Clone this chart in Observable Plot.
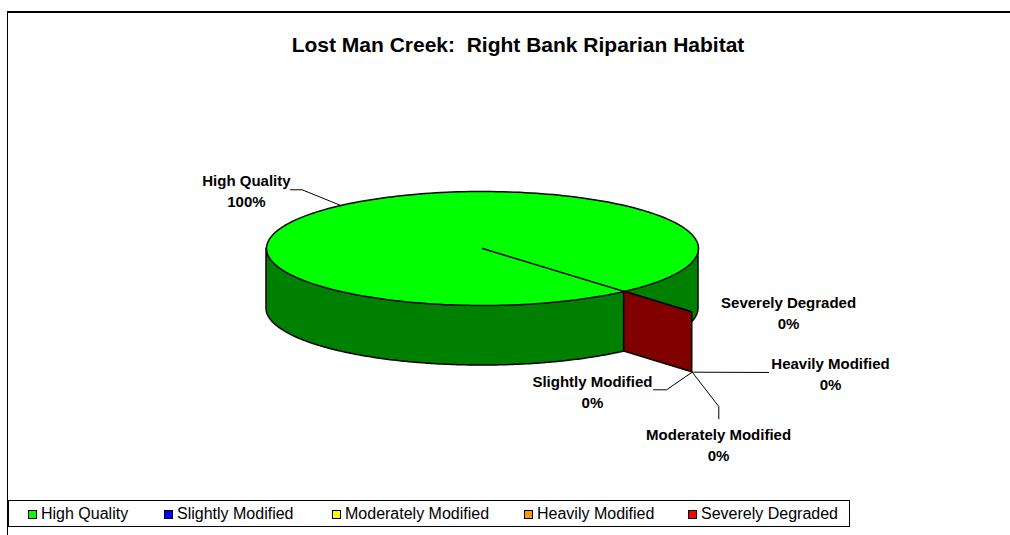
<!DOCTYPE html>
<html>
<head>
<meta charset="utf-8">
<script src="https://cdn.jsdelivr.net/npm/d3@7"></script>
<script src="https://cdn.jsdelivr.net/npm/@observablehq/plot@0.6"></script>
<style>
  html, body { margin: 0; padding: 0; background: #fff; }
  #page { position: relative; width: 1010px; height: 535px; overflow: hidden; font-family: "Liberation Sans", Arial, sans-serif; }
  #border { position: absolute; left: 7px; top: 11px; width: 1200px; height: 800px; border-left: 1.5px solid #000; border-top: 2px solid #000; }
  #title { position: absolute; left: 518px; top: 32px; transform: translateX(-50%); font-size: 21px; line-height: 25px; font-weight: bold; white-space: pre; color: #000; }
  #chart { position: absolute; left: 0; top: 0; }
  #legend { position: absolute; left: 8px; top: 500px; width: 842px; height: 27px; border: 1px solid #000; background: #fff; box-sizing: border-box; }
  .item { position: absolute; top: 0; height: 26px; display: flex; align-items: center; font-size: 16px; white-space: nowrap; color: #000; }
  .sw { width: 7px; height: 7px; border: 1px solid #000; margin-right: 4px; }
</style>
</head>
<body>
<div id="page">
  <div id="border"></div>
  <div id="title"></div>
  <div id="chart"></div>
  <div id="legend"></div>
</div>
<script>
// ---- data ----
const title = "Lost Man Creek:  Right Bank Riparian Habitat";
const categories = ["High Quality", "Slightly Modified", "Moderately Modified", "Heavily Modified", "Severely Degraded"];
const values = [100, 0, 0, 0, 0];
const topColors = ["#00FF00", "#0000FF", "#FFFF00", "#FF9900", "#FF0000"];
const sideColors = ["#008000", "#000080", "#808000", "#804C00", "#800000"];
const firstSliceAngle = 139; // degrees clockwise from 12 o'clock

// ---- layout (style) ----
const depth = 1.053;          // pie thickness in y units
const zeroFaceReach = 1.48;   // radial reach of the zero slices' face
const legendX = [19, 155, 323, 515, 679];
// label positions (pie units) and leader elbows
const labelPos = [
  {x: -1.093, y: -1.026},
  {x: 0.509, y: 2.491},
  {x: 1.093, y: 3.421},
  {x: 1.611, y: 2.175},
  {x: 1.417, y: 1.114}
];
const leaderElbows = [
  [{x: -0.835, y: -1.030}, {x: -0.889, y: -1.030}],
  [{x: 0.852, y: 2.479}, {x: 0.792, y: 2.479}],
  [{x: 1.094, y: 2.772}, {x: 1.094, y: 2.988}],
  [{x: 1.324, y: 2.175}],
  null
];

// ---- geometry from data ----
const total = d3.sum(values);
const t0 = (firstSliceAngle - 90) * Math.PI / 180;
let cum = 0;
const slices = categories.map((name, i) => {
  const a0 = t0 + 2 * Math.PI * cum / total;
  cum += values[i];
  const a1 = t0 + 2 * Math.PI * cum / total;
  return {name, i, value: values[i], pct: Math.round(100 * values[i] / total), a0, a1};
});

const N = 240;
const topPts = [], wallPts = [], facePts = [], leaderPts = [], labels = [];
for (const s of slices) {
  if (s.value > 0) {
    topPts.push({x: 0, y: 0, s: s.name, c: topColors[s.i]});
    for (let k = 0; k <= N; k++) {
      const t = s.a0 + (s.a1 - s.a0) * k / N;
      topPts.push({x: Math.cos(t), y: Math.sin(t), s: s.name, c: topColors[s.i]});
    }
    topPts.push({x: 0, y: 0, s: s.name, c: topColors[s.i]});
    for (let base = -2 * Math.PI; base <= 2 * Math.PI; base += 2 * Math.PI) {
      const lo = Math.max(s.a0, base), hi = Math.min(s.a1, base + Math.PI);
      if (hi > lo) {
        const key = s.name + base;
        for (let k = 0; k <= N; k++) {
          const t = lo + (hi - lo) * k / N;
          wallPts.push({x: Math.cos(t), y1: Math.sin(t), y2: Math.sin(t) + depth, key, c: sideColors[s.i]});
        }
      }
    }
  }
}
const zeros = slices.filter(s => s.value === 0);
if (zeros.length) {
  const z = zeros[zeros.length - 1];
  const ct = Math.cos(z.a0), st = Math.sin(z.a0);
  for (const r of [1, zeroFaceReach]) facePts.push({x: r * ct, y1: r * st, y2: r * st + depth, c: sideColors[z.i]});
}
slices.forEach((s, j) => {
  let start;
  if (s.value > 0) {
    const m = (s.a0 + s.a1) / 2;
    start = {x: Math.cos(m), y: Math.sin(m)};
  } else {
    start = {x: zeroFaceReach * Math.cos(s.a0), y: zeroFaceReach * Math.sin(s.a0) + depth};
  }
  if (leaderElbows[j]) {
    [start, ...leaderElbows[j]].forEach(p => leaderPts.push({...p, s: s.name}));
  }
  labels.push({...labelPos[j], text: `${s.name}\n${s.pct}%`});
});

const chart = Plot.plot({
  width: 1010,
  height: 495,
  margin: 0,
  x: {domain: [-1, 1], range: [266, 698], axis: null},
  y: {domain: [-1, 1], range: [191, 305], axis: null},
  marks: [
    Plot.areaY(wallPts, {x: "x", y1: "y1", y2: "y2", z: "key", fill: "c", stroke: "#000", strokeWidth: 1.5, strokeLinejoin: "round"}),
    Plot.line(topPts, {x: "x", y: "y", z: "s", fill: "c", stroke: "#000", strokeWidth: 1.5, strokeLinejoin: "round", curve: "linear"}),
    Plot.areaY(facePts, {x: "x", y1: "y1", y2: "y2", fill: "c", stroke: "#000", strokeWidth: 1.5}),
    Plot.line(leaderPts, {x: "x", y: "y", z: "s", stroke: "#000", strokeWidth: 1}),
    Plot.text(labels, {x: "x", y: "y", text: "text", fontSize: 15, fontWeight: "bold", lineHeight: 1.4, fill: "#000", fontFamily: "Liberation Sans, Arial, sans-serif"})
  ]
});
document.getElementById("chart").appendChild(chart);

document.getElementById("title").textContent = title;
const legend = document.getElementById("legend");
categories.forEach((name, i) => {
  const it = document.createElement("div");
  it.className = "item";
  it.style.left = legendX[i] + "px";
  const sw = document.createElement("span");
  sw.className = "sw";
  sw.style.background = topColors[i];
  it.appendChild(sw);
  it.appendChild(document.createTextNode(name));
  legend.appendChild(it);
});
</script>
</body>
</html>
